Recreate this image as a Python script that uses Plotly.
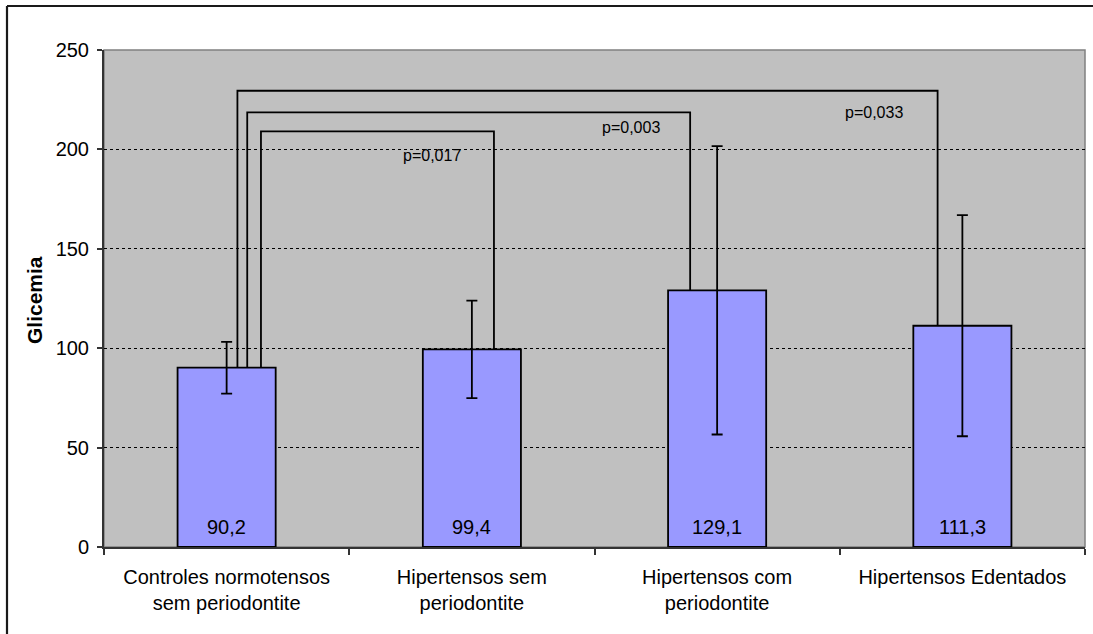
import plotly.graph_objects as go

# Group names, mean glycemia and standard deviation
groups = [
    "Controles normotensos<br>sem periodontite",
    "Hipertensos sem<br>periodontite",
    "Hipertensos com<br>periodontite",
    "Hipertensos Edentados",
]
means = [90.2, 99.4, 129.1, 111.3]
sds = [13.0, 24.5, 72.5, 55.6]

# Pairwise comparisons against the control group
compare_to = [1, 2, 3]
p_values = ["p=0,017", "p=0,003", "p=0,033"]
bracket_heights = [209.1, 218.6, 229.5]

# Bracket geometry (offsets from category centres) and p-label placement
bracket_left_dx = [0.140, 0.084, 0.044]
bracket_right_dx = [0.090, -0.110, -0.101]
label_pos = [(0.839, 196.7), (1.649, 211.2), (2.640, 218.5)]

FONT = "Liberation Sans, Arial, sans-serif"
W, H = 1093, 634
ML, MR, MT, MB = 104, 8, 50, 87
xs = list(range(len(groups)))

fig = go.Figure()

fig.add_trace(go.Bar(
    x=xs, y=means, width=0.4,
    marker=dict(color="#9999FF", line=dict(color="#000000", width=1.8)),
    error_y=dict(type="data", array=sds, visible=True, color="#000000",
                 thickness=1.8, width=5.5),
    hoverinfo="skip", showlegend=False,
))

# Value labels at the foot of each bar
for x, m in zip(xs, means):
    fig.add_annotation(x=x, y=0, xref="x", yref="y", yanchor="middle",
                       yshift=20, showarrow=False,
                       text=f"{m:.1f}".replace(".", ","),
                       font=dict(family=FONT, size=20, color="#000000"))

# Significance brackets
for j, top, dl, dr in zip(compare_to, bracket_heights, bracket_left_dx, bracket_right_dx):
    xl = xs[0] + dl
    xr = xs[j] + dr
    fig.add_trace(go.Scatter(
        x=[xl, xl, xr, xr], y=[means[0], top, top, means[j]],
        mode="lines", line=dict(color="#000000", width=1.8),
        hoverinfo="skip", showlegend=False,
    ))

for (lx, ly), txt in zip(label_pos, p_values):
    fig.add_annotation(x=lx, y=ly, xref="x", yref="y", showarrow=False,
                       text=txt, font=dict(family=FONT, size=16, color="#000000"))

# Y-axis title
fig.add_annotation(x=-0.0703, y=0.497, xref="paper", yref="paper",
                   xanchor="center", yanchor="middle",
                   text="<b>Glicemia</b>", textangle=-90, showarrow=False,
                   font=dict(family=FONT, size=21, color="#000000"))

# Plot-area frame
fig.add_shape(type="rect", xref="paper", yref="paper", x0=0, y0=0, x1=1, y1=1,
              line=dict(color="#808080", width=1.5), layer="below")

# Chart border (top and left edges), kept inside the figure canvas
pw, ph = W - ML - MR, H - MT - MB
bx0 = (7 - ML) / pw
by1 = 1 + (MT - 6) / ph
bx1 = (W - ML) / pw
by0 = -MB / ph
fig.add_shape(type="line", xref="paper", yref="paper",
              x0=bx0, y0=by1, x1=bx1, y1=by1,
              line=dict(color="#1a1a1a", width=2.2))
fig.add_shape(type="line", xref="paper", yref="paper",
              x0=bx0, y0=by1, x1=bx0, y1=by0,
              line=dict(color="#1a1a1a", width=2.2))

fig.update_layout(
    width=W, height=H,
    margin=dict(l=ML, r=MR, t=MT, b=MB),
    paper_bgcolor="#FFFFFF",
    plot_bgcolor="#C0C0C0",
    font=dict(family=FONT, color="#000000"),
    bargap=0.6,
    xaxis=dict(
        range=[-0.5, 3.5], tickmode="array", tickvals=xs, ticktext=groups,
        ticks="", showgrid=False, zeroline=False,
        showline=True, linecolor="#333333", linewidth=2,
        tickfont=dict(family=FONT, size=20, color="#000000"),
        ticklabelstandoff=11,
        minor=dict(tickmode="array", tickvals=[-0.5, 0.5, 1.5, 2.5, 3.5],
                   ticks="outside", ticklen=6, tickcolor="#333333",
                   tickwidth=1.5, showgrid=False),
        fixedrange=True,
    ),
    yaxis=dict(
        range=[0, 250], tickmode="linear", tick0=0, dtick=50,
        ticks="outside", ticklen=5, tickcolor="#333333", tickwidth=1.5,
        showline=True, linecolor="#333333", linewidth=2,
        showgrid=True, gridcolor="#000000", gridwidth=1, griddash="3px,3px",
        zeroline=False,
        tickfont=dict(family=FONT, size=20, color="#000000"),
        ticklabelstandoff=4,
        fixedrange=True,
    ),
)

fig.write_html("out.html")
